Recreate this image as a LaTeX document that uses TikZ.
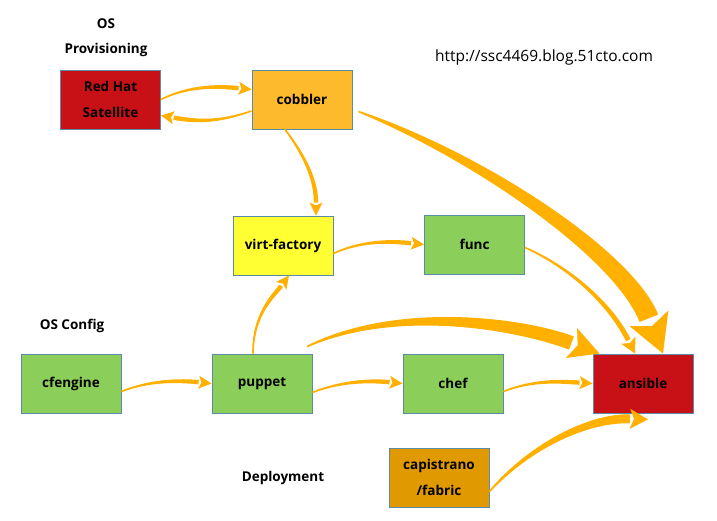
\documentclass[tikz,border=0pt]{standalone}
\usepackage{fontspec}
\setmainfont{Open Sans}
\usetikzlibrary{calc,decorations.pathreplacing}
\definecolor{acol}{HTML}{FFB000}
\definecolor{bcol}{HTML}{5A8CA8}
\definecolor{redc}{HTML}{C81116}
\definecolor{cobc}{HTML}{FDBA2C}
\definecolor{yelc}{HTML}{FFFF33}
\definecolor{grnc}{HTML}{8BCF5A}
\definecolor{capc}{HTML}{E09A00}
\tikzset{
  box/.style={draw=bcol, line width=0.9pt, minimum width=100pt, minimum height=59pt,
    inner sep=0pt, font=\bfseries\fontsize{13.5}{26}\selectfont, align=center},
  lbl/.style={font=\bfseries\fontsize{13.5}{25}\selectfont, align=center, inner sep=0pt},
  taper/.style n args={3}{decorate, decoration={show path construction,
    curveto code={
      \coordinate (tT) at (\tikzinputsegmentlast);
      \coordinate (tS) at (\tikzinputsegmentfirst);
      \coordinate (tA) at (\tikzinputsegmentsupporta);
      \coordinate (tC) at (\tikzinputsegmentsupportb);
      \coordinate (tB) at ($(tT)!#3!(tC)$);
      \fill[acol] ($(tS)!0.8pt!90:(tA)$)
        .. controls ($(tA)!0.55*#1!-90:(tS)$) and ($(tC)!#1!90:(tT)$) .. ($(tB)!#1!90:(tT)$)
        -- ($(tB)!#1!-90:(tT)$)
        .. controls ($(tC)!#1!-90:(tT)$) and ($(tA)!0.55*#1!90:(tS)$) .. ($(tS)!0.8pt!-90:(tA)$) -- cycle;
      \fill[acol] (tT) -- ($(tB)!#2!90:(tT)$) -- ($(tB)!0.22!(tT)$) -- ($(tB)!#2!-90:(tT)$) -- cycle;
    }}},
  thin/.style={taper={2.2pt}{6.5pt}{13pt}}
}
\begin{document}
\begin{tikzpicture}[x=1pt,y=-1pt]
\path[use as bounding box, fill=white] (0,0) rectangle (717,520);
% nodes
\node[box, fill=redc] (rhs) at (110.5,99.5) {Red Hat\\Satellite};
\node[box, fill=cobc] (cob) at (302,99.5) {cobbler};
\node[box, fill=yelc] (virt) at (283,245.5) {virt-factory};
\node[box, fill=grnc] (func) at (474.5,244.5) {func};
\node[box, fill=grnc] (cfe) at (71,383.5) {cfengine};
\node[box, fill=grnc] (pup) at (262,383.5) {puppet};
\node[box, fill=grnc] (chef) at (453,383.5) {chef};
\node[box, fill=redc] (ans) at (643,383.5) {ansible};
\node[box, fill=capc] (cap) at (439,477.5) {capistrano\\/fabric};
% labels
\node[lbl] (lprov) at (106,37.5) {OS\\Provisioning};
\node[lbl] (lcfg) at (72,326) {OS Config};
\node[lbl] (ldep) at (283,478) {Deployment};
\node[font=\fontsize{15.5}{17}\selectfont, inner sep=0pt] (url) at (544,57) {http://ssc4469.blog.51cto.com};
% connectors
\path[thin] (rhs.east) .. controls +(30,-15) and +(-30,-3) .. ($(cob.west)+(0,-10)$);
\path[thin] ($(cob.west)+(0,11.5)$) .. controls +(-35,12) and +(35,6) .. ($(rhs.east)+(0,16)$);
\path[thin] ($(cob.south)+(-17,0)$) .. controls +(15,20) and +(0,-40) .. ($(virt.north)+(33,0)$);
\path[taper={10pt}{21pt}{38pt}] ($(cob.east)+(6,12)$) .. controls +(120,45) and +(-40,-100) .. ($(ans.north)+(20,0)$);
\path[taper={2.5pt}{8pt}{15pt}] ($(func.east)+(0,3)$) .. controls +(45,20) and +(-25,-50) .. ($(ans.north)+(-8,0)$);
\path[taper={7pt}{16pt}{30pt}] ($(pup.north)+(45,-7)$) .. controls +(90,-42) and +(-80,-30) .. ($(ans.north west)+(7,0)$);
\path[thin] ($(chef.east)+(0,8)$) .. controls +(30,-12) and +(-30,-2) .. (ans.west);
\path[taper={4.5pt}{10pt}{18pt}] ($(cap.east)+(0,14)$) .. controls +(40,-45) and +(-60,-2) .. ($(ans.south)+(5,6)$);
\path[thin] ($(cfe.east)+(0,8)$) .. controls +(30,-12) and +(-30,-3) .. (pup.west);
\path[thin] ($(pup.east)+(0,9)$) .. controls +(30,-12) and +(-30,-3) .. (chef.west);
\path[thin] ($(pup.north)+(-9,0)$) .. controls +(0,-40) and +(-15,20) .. ($(virt.south)+(6,0)$);
\path[thin] ($(virt.east)+(0,8)$) .. controls +(30,-14) and +(-30,-3) .. (func.west);
\end{tikzpicture}
\end{document}
